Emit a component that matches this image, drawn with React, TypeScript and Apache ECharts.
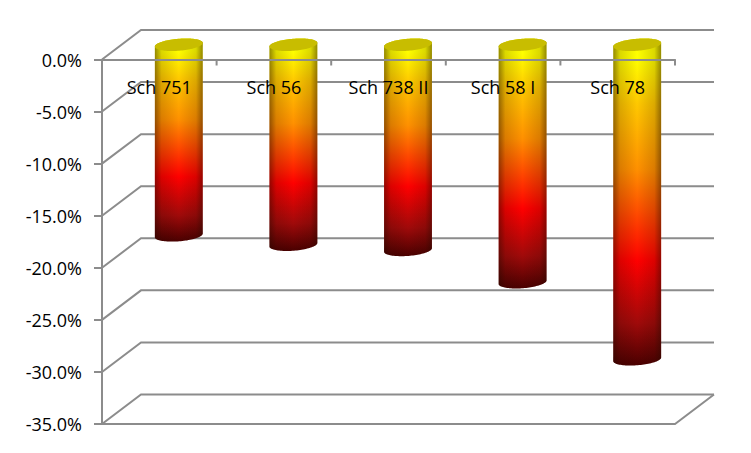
import React, { useEffect, useRef } from "react";
import * as echarts from "echarts";

const categories = ["Sch 751", "Sch 56", "Sch 738 II", "Sch 58 I", "Sch 78"];
const values = [-18.3, -19.2, -19.7, -22.8, -30.2];
const gridTicks = [0, -5, -10, -15, -20, -25, -30, -35];

const LINE = "#8c8c8c";
const FONT = "'Open Sans', sans-serif";
const DEPTH_X = 39;
const DEPTH_Y = 29.5;
const RX = 24;
const RY = 6;
const TILT = -0.08;

function ellipsePoint(cx: number, cy: number, t: number) {
  const ex = RX * Math.cos(t);
  const ey = RY * Math.sin(t);
  return [cx + ex * Math.cos(TILT) - ey * Math.sin(TILT), cy + ex * Math.sin(TILT) + ey * Math.cos(TILT)];
}

function renderWall(params: any, api: any) {
  const cs = params.coordSys;
  const y = api.coord([0, api.value(1)])[1];
  const x0 = cs.x;
  const x1 = cs.x + cs.width;
  const style = { stroke: LINE, lineWidth: 2, fill: "none" };
  const children: any[] = [
    {
      type: "polyline",
      shape: { points: [[x0, y], [x0 + DEPTH_X, y - DEPTH_Y], [x1 + DEPTH_X, y - DEPTH_Y]] },
      style,
    },
  ];
  if (api.value(1) === gridTicks[gridTicks.length - 1]) {
    children.push({
      type: "polyline",
      shape: { points: [[x1 + DEPTH_X, y - DEPTH_Y], [x1, y], [x0, y], [x0, cs.y]] },
      style,
    });
    for (let i = 1; i <= categories.length; i++) {
      const tx = x0 + (cs.width * i) / categories.length;
      children.push({
        type: "line",
        shape: { x1: tx, y1: cs.y, x2: tx, y2: cs.y + 6 },
        style: { stroke: LINE, lineWidth: 2 },
      });
    }
  }
  return { type: "group", children };
}

function renderCylinder(_params: any, api: any) {
  const top = api.coord([api.value(0), 0]);
  const bottom = api.coord([api.value(0), api.value(1)]);
  const cx = top[0] + DEPTH_X / 2;
  const yT = top[1] - DEPTH_Y / 2;
  const yB = bottom[1] - DEPTH_Y / 2;
  const body: number[][] = [];
  const STEPS = 48;
  for (let i = 0; i <= STEPS; i++) body.push(ellipsePoint(cx, yB, (Math.PI * i) / STEPS));
  for (let i = 0; i <= STEPS; i++) body.push(ellipsePoint(cx, yT, Math.PI + (Math.PI * i) / STEPS).slice());
  const cap: number[][] = [];
  for (let i = 0; i < STEPS * 2; i++) cap.push(ellipsePoint(cx, yT, (Math.PI * i) / STEPS));
  const vertical = new echarts.graphic.LinearGradient(0, 0, 0, 1, [
    { offset: 0, color: "#ffff00" },
    { offset: 0.06, color: "#ffff00" },
    { offset: 0.2, color: "#ffc800" },
    { offset: 0.4, color: "#ff9000" },
    { offset: 0.68, color: "#ff0000" },
    { offset: 0.87, color: "#a00a0a" },
    { offset: 1, color: "#4a0000" },
  ]);
  const shade = new echarts.graphic.LinearGradient(0, 0, 1, 0, [
    { offset: 0, color: "rgba(30,10,0,0.48)" },
    { offset: 0.14, color: "rgba(30,10,0,0.16)" },
    { offset: 0.5, color: "rgba(30,10,0,0)" },
    { offset: 0.86, color: "rgba(30,10,0,0.16)" },
    { offset: 1, color: "rgba(30,10,0,0.48)" },
  ]);
  return {
    type: "group",
    children: [
      { type: "polygon", shape: { points: body }, style: { fill: vertical } },
      { type: "polygon", shape: { points: body }, style: { fill: shade } },
      { type: "polygon", shape: { points: cap }, style: { fill: "#c8bd00" } },
    ],
  };
}

export default function App() {
  const ref = useRef<HTMLDivElement>(null);
  useEffect(() => {
    const chart = echarts.init(ref.current!, null, { renderer: "svg" });
    chart.setOption({
      animation: false,
      backgroundColor: "#ffffff",
      grid: { left: 102, top: 59.5, width: 573, height: 364.5 },
      xAxis: {
        type: "category",
        position: "top",
        data: categories,
        z: 10,
        axisLine: { onZero: false, lineStyle: { color: LINE, width: 2 } },
        axisTick: { show: false },
        axisLabel: { inside: true, margin: 18, color: "#000", fontFamily: FONT, fontSize: 18 },
        splitLine: { show: false },
      },
      yAxis: {
        type: "value",
        min: -35,
        max: 0,
        interval: 5,
        z: 10,
        axisLine: { show: false },
        axisTick: { show: true, length: 8, lineStyle: { color: LINE, width: 2 } },
        axisLabel: {
          margin: 20,
          color: "#000",
          fontFamily: FONT,
          fontSize: 18,
          formatter: (v: number) => v.toFixed(1) + "%",
        },
        splitLine: { show: false },
      },
      series: [
        {
          type: "custom",
          z: 1,
          clip: false,
          silent: true,
          renderItem: renderWall,
          encode: { x: 0, y: 1 },
          data: gridTicks.map((t) => [0, t]),
        },
        {
          type: "custom",
          z: 2,
          clip: false,
          silent: true,
          renderItem: renderCylinder,
          encode: { x: 0, y: 1 },
          data: values.map((v, i) => [i, v]),
        },
      ],
    });
    return () => chart.dispose();
  }, []);
  return <div ref={ref} style={{ position: "absolute", left: 0, top: 0, width: 751, height: 453 }} />;
}
